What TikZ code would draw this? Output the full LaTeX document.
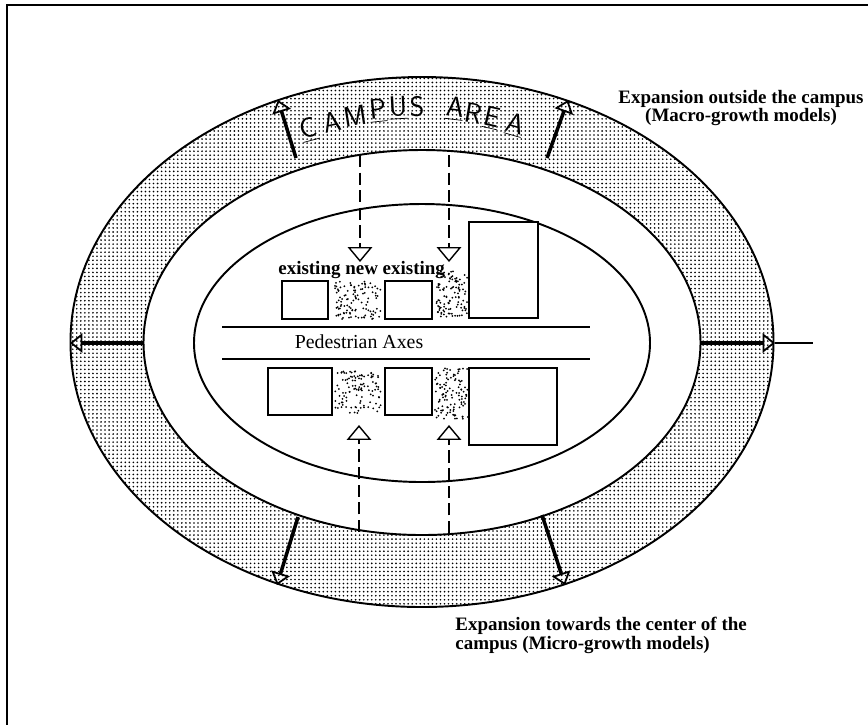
\documentclass[tikz,border=0pt]{standalone}
\usepackage{fontspec}
\setmainfont{Liberation Serif}
\usetikzlibrary{arrows.meta,patterns}

% dotted screen of the campus ring
\pgfdeclarepatternformonly{ringdots}{\pgfpoint{-1pt}{-1pt}}{\pgfpoint{1pt}{1pt}}
  {\pgfpoint{2.3pt}{2.3pt}}
  {\pgfpathcircle{\pgfpoint{0pt}{0pt}}{0.52pt}\pgfusepath{fill}}

\tikzset{
  ring/.style={line width=1.1pt},
  house/.style={line width=0.9pt, fill=white},
  growth/.style={line width=2pt, -{Triangle[open,length=7pt,width=11pt,line width=1pt]}},
  infill/.style={line width=0.6pt, dash pattern=on 7pt off 3pt,
    -{Triangle[open,length=8.5pt,width=14pt,line width=0.8pt]}},
  note/.style={font=\bfseries\fontsize{10.8}{9.4}\selectfont, inner sep=0pt},
  letter/.style={font=\sffamily\fontsize{16}{16}\selectfont, inner sep=0pt}
}

% random dots for the new buildings
\newcommand{\speckle}[4]{%
  \foreach \k in {1,...,110}{%
    \pgfmathsetmacro{\sx}{#1+rnd*(#3-#1)}%
    \pgfmathsetmacro{\sy}{#2+rnd*(#4-#2)}%
    \fill (\sx,\sy) circle[radius=1];
  }}

\begin{document}
\begin{tikzpicture}[x=0.02cm,y=-0.02cm]
  \useasboundingbox (0,0) rectangle (868,725);
  \pgfmathsetseed{7}

  % Draw frame
  \draw[line width=1.1pt] (868,5) -- (7,5) -- (7,725);

  % Draw campus ring
  \fill[pattern=ringdots, even odd rule] (422,342) ellipse (351.5 and 265)
    (422,342.5) ellipse (278.5 and 192.5);
  \draw[ring] (422,342) ellipse (351.5 and 265);
  \draw[ring] (422,342.5) ellipse (278.5 and 192.5);
  \draw[ring] (422,343) ellipse (228 and 139);

  % Campus title, letter by letter along the ring
  \foreach \ch/\px/\py/\rt [count=\n] in {\underline{C}/309/130/15, A/332/122/12,
      M/355/116/9, \underline{P}/378/111/6, \underline{U}/398/108/3, S/417/107/1,
      \underline{A}/455/109/-7, R/474/113/-10, \underline{E}/492/118/-13,
      \underline{A}/515/125/-16}
    \node[letter, rotate=\rt] (ch-\n) at (\px,\py) {\ch};

  % Pedestrian axes
  \draw[line width=0.9pt] (222,327) -- (590,327);
  \draw[line width=0.9pt] (222,359) -- (590,359);
  \node[font=\fontsize{11.3}{13}\selectfont] (axes) at (359,342) {Pedestrian Axes};

  % Buildings, upper row
  \draw[house] (282,281) rectangle (328,319);
  \speckle{335}{281}{381}{319}
  \draw[house] (385,281) rectangle (432,319);
  \speckle{435}{271}{468}{318}
  \draw[house] (469,222) rectangle (538,318);
  \node[note, anchor=west] (kinds) at (278,270) {existing new existing};

  % Buildings, lower row
  \draw[house] (268,368) rectangle (332,415);
  \speckle{335}{370}{381}{413}
  \draw[house] (385,368) rectangle (432,415);
  \speckle{435}{368}{468}{419}
  \draw[house] (469,368) rectangle (557,445);

  % Expansion arrows
  \coordinate (tl-s) at (296,158);  \coordinate (tl-e) at (278,100);
  \coordinate (tr-s) at (547,158);  \coordinate (tr-e) at (568,100);
  \coordinate (l-s)  at (143,343);  \coordinate (l-e)  at (70,343);
  \coordinate (r-s)  at (700,343);  \coordinate (r-e)  at (775,343);
  \coordinate (r-x)  at (813,343);
  \coordinate (bl-s) at (298,517);  \coordinate (bl-e) at (277,585);
  \coordinate (br-s) at (542,515);  \coordinate (br-e) at (565,585);
  \draw[growth] (tl-s) -- (tl-e);
  \draw[growth] (tr-s) -- (tr-e);
  \draw[growth] (l-s) -- (l-e);
  \draw[growth] (r-s) -- (r-e);
  \draw[line width=0.8pt] (r-e) -- (r-x);
  \draw[growth] (bl-s) -- (bl-e);
  \draw[growth] (br-s) -- (br-e);

  % Infill arrows
  \coordinate (d1-s) at (360,155);  \coordinate (d1-e) at (360,262);
  \coordinate (d2-s) at (449,155);  \coordinate (d2-e) at (449,262);
  \coordinate (u1-s) at (359,532);  \coordinate (u1-e) at (359,425);
  \coordinate (u2-s) at (449,533);  \coordinate (u2-e) at (449,425);
  \draw[infill] (d1-s) -- (d1-e);
  \draw[infill] (d2-s) -- (d2-e);
  \draw[infill] (u1-s) -- (u1-e);
  \draw[infill] (u2-s) -- (u2-e);

  % Notes
  \node[note, align=center] (macro) at (741,108)
    {Expansion outside the campus\\(Macro-growth models)};
  \node[note, align=left, anchor=north west] (micro) at (455,617)
    {Expansion towards the center of the\\campus (Micro-growth models)};
\end{tikzpicture}
\end{document}
